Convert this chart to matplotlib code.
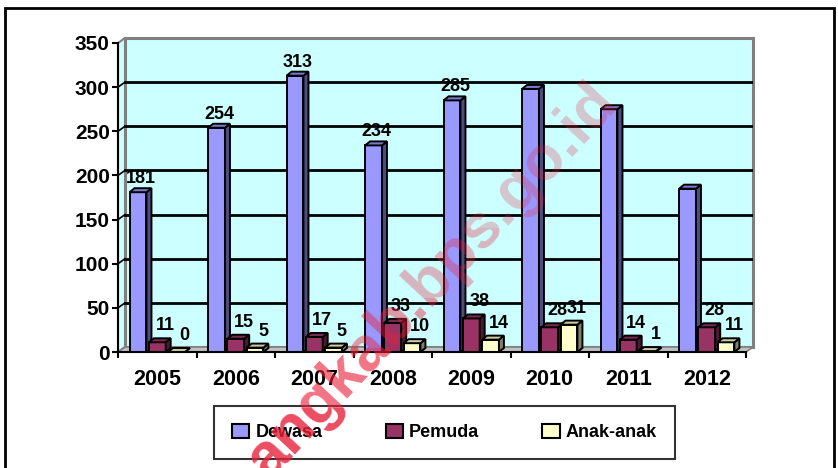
import numpy as np
import matplotlib
matplotlib.use("Agg")
import matplotlib.pyplot as plt
from matplotlib.patches import Polygon, Rectangle, Patch

years = ["2005", "2006", "2007", "2008", "2009", "2010", "2011", "2012"]
dewasa = [181, 254, 313, 234, 285, 298, 275, 185]
pemuda = [11, 15, 17, 33, 38, 28, 14, 28]
anak = [0, 5, 5, 10, 14, 31, 1, 11]
series_names = ["Dewasa", "Pemuda", "Anak-anak"]
show_label_dewasa = [True, True, True, True, True, False, False, False]
yticks = [0, 50, 100, 150, 200, 250, 300, 350]

plt.rcParams['font.family'] = ['Liberation Sans', 'DejaVu Sans']
plt.rcParams['font.weight'] = 'bold'

W, H = 838, 468
fig = plt.figure(figsize=(W / 100, H / 100), dpi=100)

# pixel geometry
px_per_cat = 78.5
px_per_unit = 309 / 350.0
wall_dx = 7 / px_per_cat
wall_dy = 5 / px_per_unit
ymax = 350
left_px, right_px = 118, 753
bot_px, top_px = 352, 38
ax = fig.add_axes([left_px / W, 1 - bot_px / H, (right_px - left_px) / W, (bot_px - top_px) / H])
ax.set_xlim(-0.5, len(years) - 0.5 + wall_dx)
ax.set_ylim(0, ymax + wall_dy)
ax.set_facecolor('none')

n = len(years)
x0, x1 = -0.5, n - 0.5
wall_col = '#CCFFFF'
edge_gray = '#808080'
# back wall
ax.add_patch(Polygon([(x0 + wall_dx, wall_dy), (x1 + wall_dx, wall_dy), (x1 + wall_dx, ymax + wall_dy),
                      (x0 + wall_dx, ymax + wall_dy)], closed=True, facecolor=wall_col,
                     edgecolor=edge_gray, lw=2.2, zorder=0.5, clip_on=False))
# left side wall
ax.add_patch(Polygon([(x0, 0), (x0 + wall_dx, wall_dy), (x0 + wall_dx, ymax + wall_dy), (x0, ymax)],
                     closed=True, facecolor=wall_col, edgecolor=edge_gray, lw=1.5, zorder=0.6, clip_on=False))
# floor
ax.add_patch(Polygon([(x0, 0), (x1, 0), (x1 + wall_dx, wall_dy), (x0 + wall_dx, wall_dy)],
                     closed=True, facecolor='#C0C0C0', edgecolor=edge_gray, lw=1.2, zorder=0.7, clip_on=False))
# gridlines
for v in yticks[1:-1]:
    ax.plot([x0 + wall_dx, x1 + wall_dx], [v + wall_dy, v + wall_dy], color='black', lw=2.0, zorder=0.8)
    ax.plot([x0, x0 + wall_dx], [v, v + wall_dy], color='black', lw=1.2, zorder=0.8)

# bars
bw = 0.215
sp = 0.245
bdx = 5 / px_per_cat
bdy = 4 / px_per_unit
styles = [
    ('#9999FF', '#4D4D80', '#7A7ACC'),
    ('#993366', '#4D1A33', '#7A2952'),
    ('#FFFFCC', '#808066', '#CCCCA3'),
]
data = [dewasa, pemuda, anak]
z = 2
for i in range(n):
    for k, vals in enumerate(data):
        v = vals[i]
        xc = i + (k - 1) * sp
        fc, sc, tc = styles[k]
        xl, xr = xc - bw / 2, xc + bw / 2
        ax.bar(xc, v, width=bw, color=fc, edgecolor='black', lw=1.4, zorder=z)
        ax.add_patch(Polygon([(xr, 0), (xr + bdx, bdy), (xr + bdx, v + bdy), (xr, v)], closed=True,
                             facecolor=sc, edgecolor='black', lw=1.4, zorder=z))
        ax.add_patch(Polygon([(xl, v), (xl + bdx, v + bdy), (xr + bdx, v + bdy), (xr, v)], closed=True,
                             facecolor=tc, edgecolor='black', lw=1.4, zorder=z))
        z += 0.01

# data labels
for i in range(n):
    for k, vals in enumerate(data):
        v = vals[i]
        xc = i + (k - 1) * sp
        if k == 0:
            if not show_label_dewasa[i]:
                continue
            off = (3 * 0.72, 5 * 0.72)
        else:
            off = (8 * 0.72, 8 * 0.72)
        ax.annotate(str(v), (xc, v), xytext=off, textcoords='offset points', ha='center', va='bottom',
                    fontsize=13, fontweight='bold', zorder=10, annotation_clip=False)

# axes
for s in ['top', 'right']:
    ax.spines[s].set_visible(False)
ax.spines['left'].set_bounds(0, ymax)
ax.spines['bottom'].set_bounds(x0, x1)
ax.spines['left'].set_linewidth(1.5)
ax.spines['bottom'].set_linewidth(1.5)
ax.spines['left'].set_zorder(5)
ax.spines['bottom'].set_zorder(5)
ax.set_yticks(yticks)
ax.set_yticklabels([str(t) for t in yticks], fontsize=15, fontweight='bold')
ax.tick_params(axis='y', direction='out', length=4, width=1.5, pad=2)
ax.set_xticks(np.arange(-0.5, n, 1.0))
ax.set_xticklabels([''] * (n + 1))
ax.tick_params(axis='x', which='major', direction='out', length=4, width=1.5)
ax.set_xticks(np.arange(n), minor=True)
ax.set_xticklabels(years, minor=True, fontsize=15.5, fontweight='bold')
ax.tick_params(axis='x', which='minor', length=0, pad=12)

# legend
handles = [Patch(facecolor=styles[k][0], edgecolor='black', lw=1.5) for k in range(3)]
leg = fig.legend(handles, series_names, loc='center', bbox_to_anchor=((209 + 680) / 2 / W, 1 - (405 + 460) / 2 / H),
                 ncol=3, frameon=True, fancybox=False, prop={'weight': 'bold', 'size': 13},
                 handlelength=0.95, handleheight=0.85, handletextpad=0.35, columnspacing=3.5, borderpad=1.0)
leg.get_frame().set_edgecolor('black')
leg.get_frame().set_linewidth(1.5)

# outer border
fig.patches.append(Rectangle((5 / W, -0.1), (834 - 5) / W, 1.1 - 8 / H, transform=fig.transFigure,
                             fill=False, edgecolor='black', lw=2, clip_on=False))

# watermark with fading gradient
wm_x, wm_y = 432 / W, 1 - 282 / H
bands = [(0, 60, 0.8), (60, 120, 0.62), (120, 170, 0.45), (170, 240, 0.33), (240, 468, 0.25)]
for b0, b1, a in bands:
    t = fig.text(wm_x, wm_y, "angkab.bps.go.id", rotation=47, fontsize=45, fontweight='bold',
                 color='#E8203A', alpha=a, ha='center', va='center', rotation_mode='anchor', zorder=20)
    clip = Rectangle((0, b0 / H), 1, (b1 - b0) / H, transform=fig.transFigure, visible=False)
    fig.patches.append(clip)
    t.set_clip_path(clip)

fig.savefig('out.png', dpi=100)
